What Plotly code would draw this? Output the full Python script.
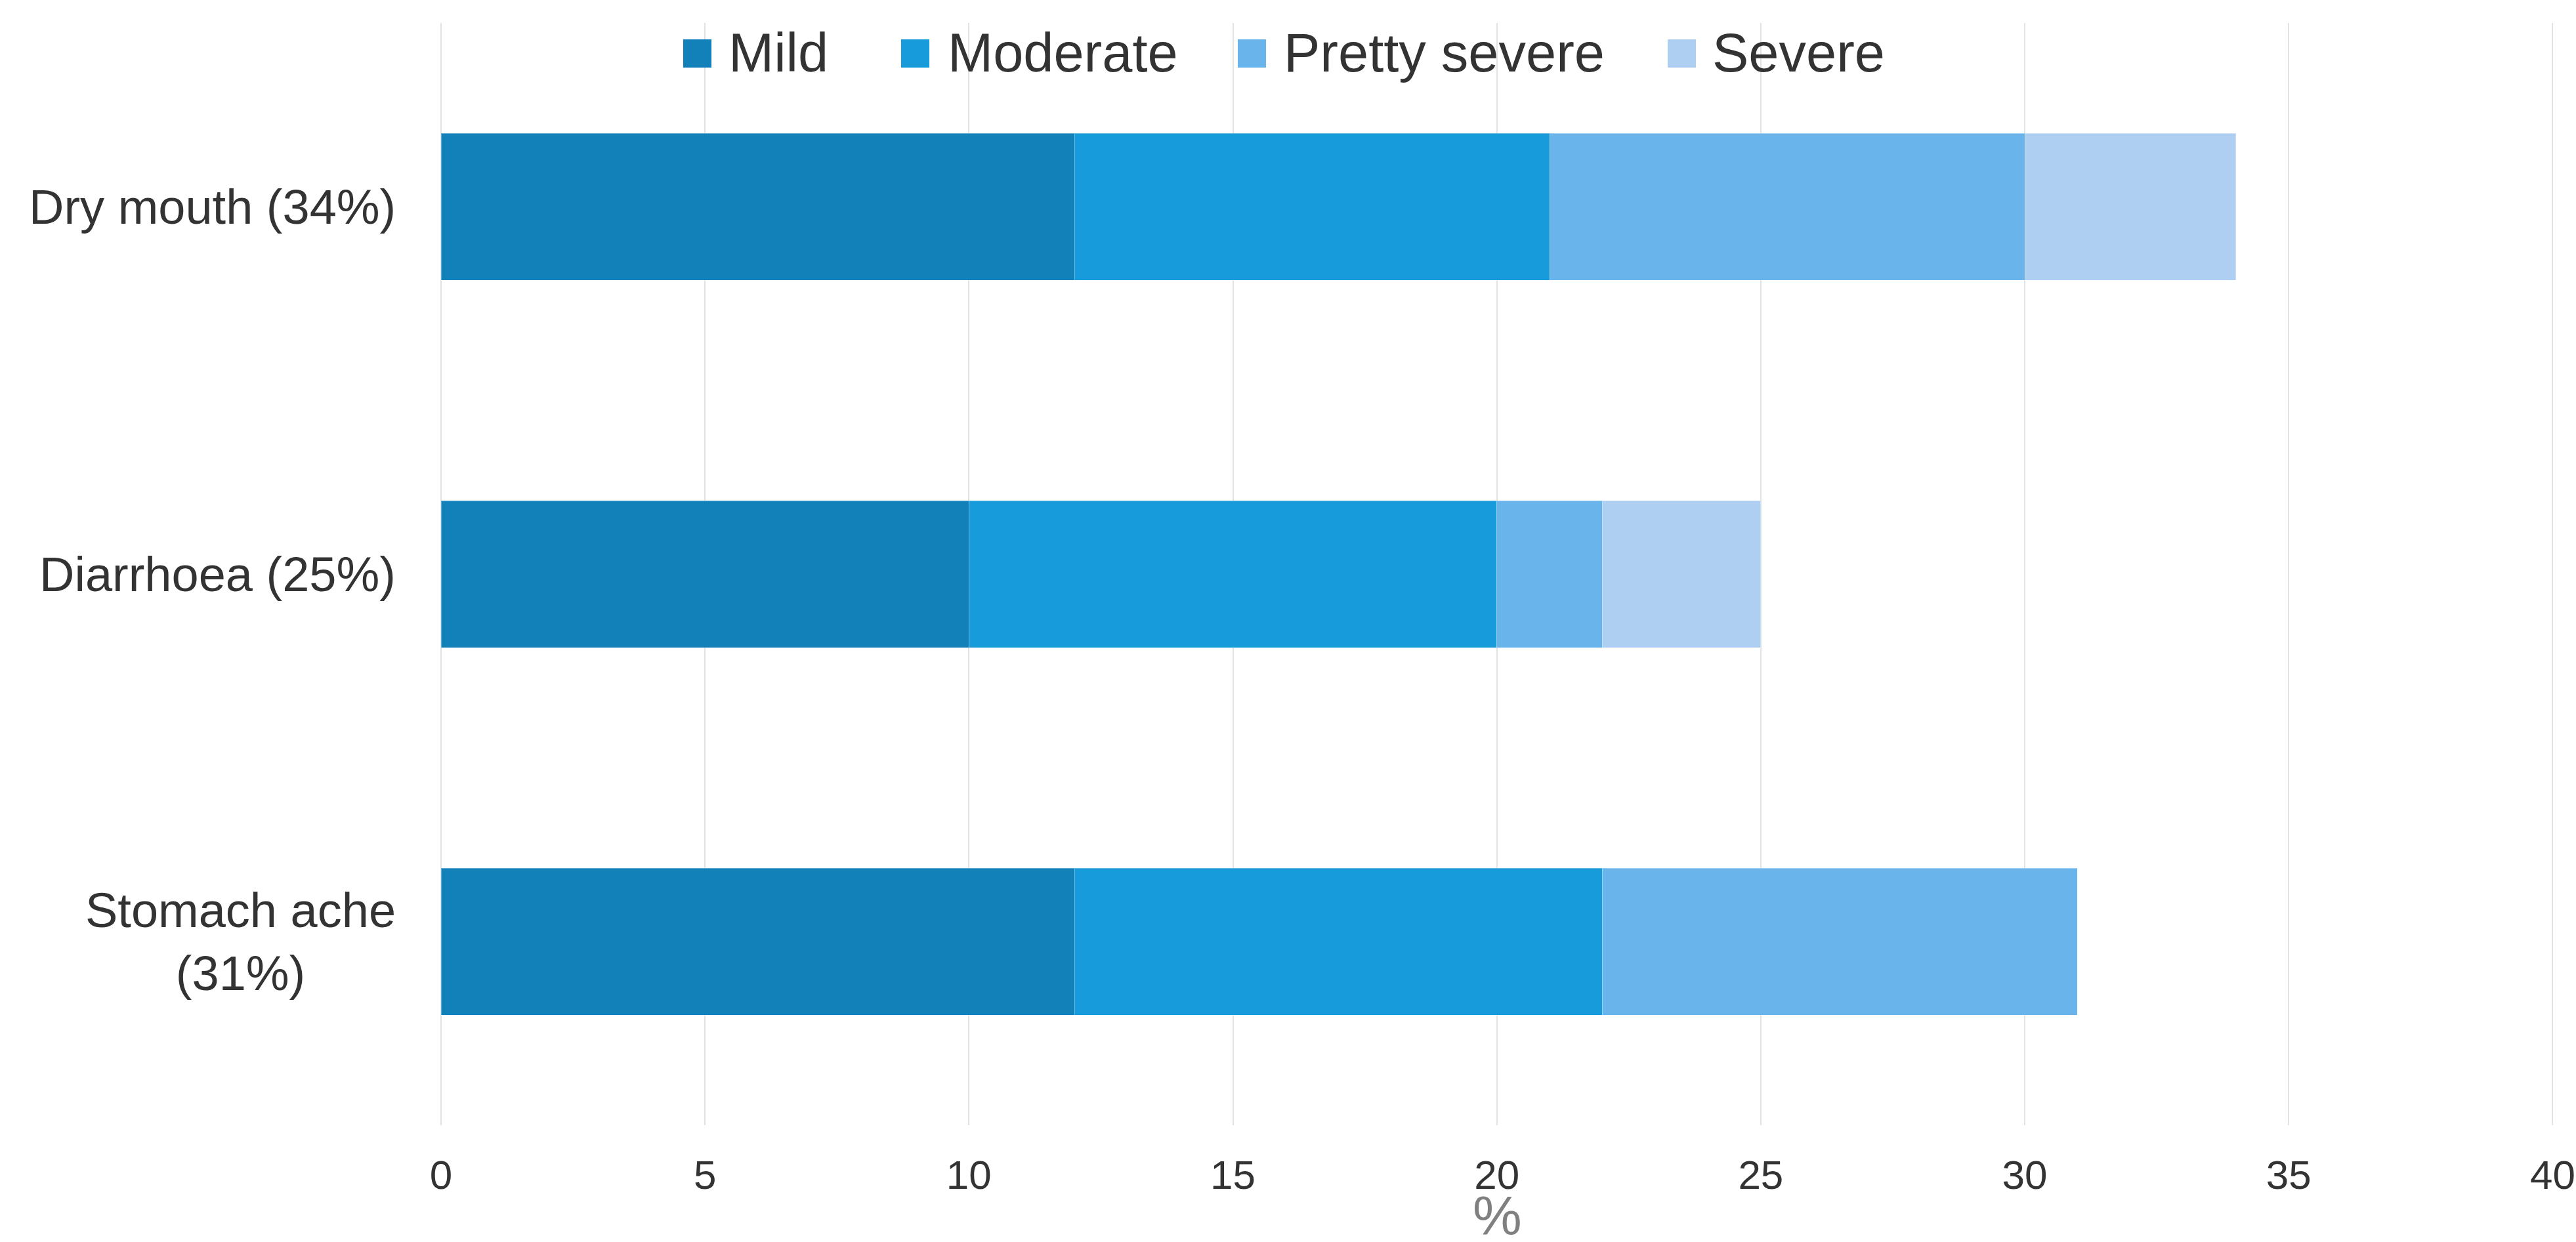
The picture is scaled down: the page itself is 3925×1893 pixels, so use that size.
import plotly.graph_objects as go

# --- data -------------------------------------------------------------
symptoms = ["Dry mouth (34%)", "Diarrhoea (25%)", "Stomach ache<br>(31%)"]
severity_levels = ["Mild", "Moderate", "Pretty severe", "Severe"]
mild = [12, 10, 12]
moderate = [9, 10, 10]
pretty_severe = [9, 2, 9]
severe = [4, 3, 0]
x_ticks = [0, 5, 10, 15, 20, 25, 30, 35, 40]
x_title = "%"

series = [mild, moderate, pretty_severe, severe]
colors = ["#1381B9", "#189BDB", "#6AB4EC", "#AECFF2"]

# --- canvas geometry --------------------------------------------------
W, H = 3925, 1893
M_L, M_R, M_T, M_B = 672, 34, 35, 178
FONT = "Liberation Sans, Arial, Helvetica, sans-serif"
TEXT = "#333333"


def paper_x(px):
    return (px - M_L) / (W - M_L - M_R)


def paper_y(py):
    return 1 - (py - M_T) / (H - M_T - M_B)


fig = go.Figure()

for name, vals, col in zip(severity_levels, series, colors):
    fig.add_trace(go.Bar(
        y=symptoms,
        x=vals,
        name=name,
        orientation="h",
        width=0.4,
        marker=dict(color=col, line=dict(color="rgba(255,255,255,0.35)", width=1)),
        showlegend=False,
    ))

# category labels, centred line by line
for s in symptoms:
    fig.add_annotation(
        x=paper_x(605), xref="paper", xanchor="right",
        y=s, yref="y", yanchor="middle",
        text=s, showarrow=False, align="center",
        font=dict(family=FONT, size=74, color=TEXT),
    )

# legend row: square swatches with labels
swatch_left = [1041, 1373, 1886, 2541]
label_left = [1108, 1442, 1954, 2607]
for name, col, sx, tx in zip(severity_levels, colors, swatch_left, label_left):
    fig.add_shape(
        type="rect", xref="paper", yref="paper",
        x0=paper_x(sx), x1=paper_x(sx + 43),
        y0=paper_y(103), y1=paper_y(60),
        fillcolor=col, line=dict(width=0), layer="above",
    )
    fig.add_annotation(
        x=paper_x(tx), xref="paper", xanchor="left",
        y=paper_y(80), yref="paper", yanchor="middle",
        text=name, showarrow=False,
        font=dict(family=FONT, size=83, color=TEXT),
    )

# x-axis title sitting at the very bottom, under the tick labels
fig.add_annotation(
    x=0.5, xref="paper", xanchor="center",
    y=paper_y(1853), yref="paper", yanchor="middle",
    text=x_title, showarrow=False,
    font=dict(family=FONT, size=84, color="#808080"),
)

fig.update_layout(
    width=W, height=H,
    margin=dict(l=M_L, r=M_R, t=M_T, b=M_B, pad=0, autoexpand=False),
    barmode="stack",
    plot_bgcolor="white",
    paper_bgcolor="white",
    font=dict(family=FONT, color=TEXT),
    showlegend=False,
    bargap=0.6,
)

fig.update_xaxes(
    # a hair past 40 so the last grid line is kept at the edge
    range=[0, 40.02],
    tickvals=x_ticks,
    ticktext=[str(v) for v in x_ticks],
    showgrid=True, gridcolor="#E3E3E3", gridwidth=2,
    zeroline=True, zerolinecolor="#E3E3E3", zerolinewidth=2,
    showline=False,
    ticks="",
    automargin=False,
    ticklabeloverflow="allow",
    tickfont=dict(family=FONT, size=62, color=TEXT),
    ticklabelstandoff=34,
)

fig.update_yaxes(
    autorange="reversed",
    showticklabels=False,
    showgrid=False,
    showline=False,
    ticks="",
)

fig.write_html("out.html")
